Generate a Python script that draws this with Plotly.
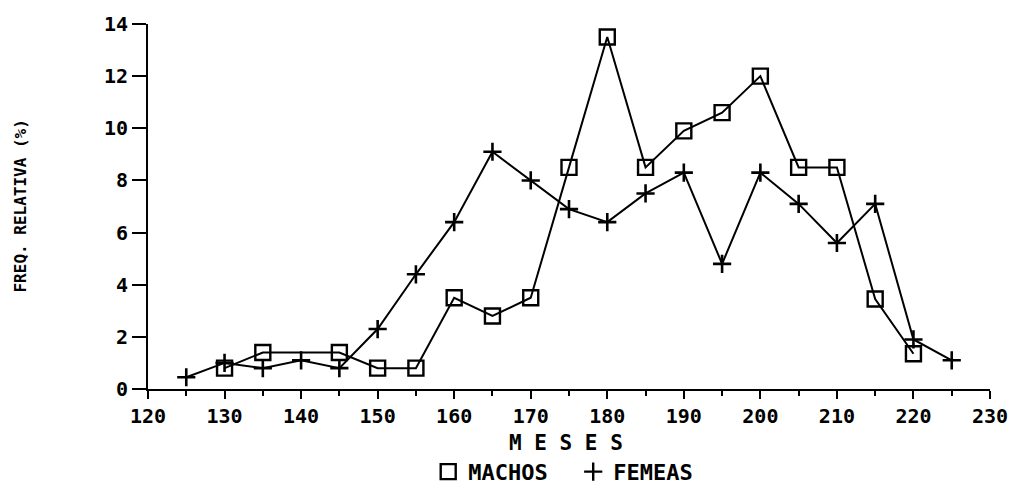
import plotly.graph_objects as go

meses_machos = [130, 135, 145, 150, 155, 160, 165, 170, 175, 180, 185, 190, 195, 200, 205, 210, 215, 220]
machos = [0.8, 1.4, 1.4, 0.8, 0.8, 3.5, 2.8, 3.5, 8.5, 13.5, 8.5, 9.9, 10.6, 12.0, 8.5, 8.5, 3.45, 1.35]

meses_femeas = [125, 130, 135, 140, 145, 150, 155, 160, 165, 170, 175, 180, 185, 190, 195, 200, 205, 210, 215, 220, 225]
femeas = [0.45, 1.0, 0.8, 1.1, 0.8, 2.3, 4.4, 6.4, 9.1, 8.0, 6.9, 6.4, 7.5, 8.3, 4.8, 8.3, 7.1, 5.6, 7.1, 1.9, 1.1]

FONT = "DejaVu Sans Mono"

fig = go.Figure()
fig.add_trace(go.Scatter(
    x=meses_machos, y=machos, mode="lines+markers", name="MACHOS", showlegend=False,
    line=dict(color="black", width=2),
    marker=dict(symbol="square-open", size=15, color="black", line=dict(width=2.4)),
))
fig.add_trace(go.Scatter(
    x=meses_femeas, y=femeas, mode="lines+markers", name="FEMEAS", showlegend=False,
    line=dict(color="black", width=2),
    marker=dict(symbol="cross-thin-open", size=13, color="black", line=dict(width=2.6, color="black")),
))
# legend entries (markers only)
fig.add_trace(go.Scatter(x=[None], y=[None], mode="markers", name="<b>MACHOS</b>",
                         marker=dict(symbol="square-open", size=15, color="black", line=dict(width=2.4))))
fig.add_trace(go.Scatter(x=[None], y=[None], mode="markers", name="<b>FEMEAS</b>",
                         marker=dict(symbol="cross-thin-open", size=13, color="black", line=dict(width=2.4, color="black"))))

fig.update_layout(
    width=1010, height=490,
    margin=dict(l=148, r=20, t=24, b=101),
    paper_bgcolor="white", plot_bgcolor="white",
    font=dict(family=FONT, size=20, color="black"),
    legend=dict(orientation="h", x=0.505, xanchor="center", yref="container", y=0.037, yanchor="middle",
                font=dict(family=FONT, size=22, color="black"), itemwidth=30, entrywidth=100,
                bgcolor="rgba(0,0,0,0)"),
    xaxis=dict(
        range=[120, 230], dtick=10, tick0=120, showgrid=False, zeroline=False,
        showline=True, linecolor="black", linewidth=2, automargin=False,
        ticks="outside", ticklen=8, tickwidth=2, tickcolor="black",
        minor=dict(dtick=5, ticks="outside", ticklen=5, tickwidth=2, tickcolor="black"),
        tickfont=dict(family=FONT, size=20, color="black", weight="bold"),
    ),
    yaxis=dict(
        range=[0, 14], dtick=2, showgrid=False, zeroline=False,
        showline=True, linecolor="black", linewidth=2, automargin=False,
        ticks="outside", ticklen=14, tickwidth=1.5, tickcolor="black",
        tickfont=dict(family=FONT, size=20, color="black", weight="bold"),
    ),
    annotations=[
        dict(text="<b>M E S E S</b>", xref="paper", yref="paper", x=0.496, y=-0.148,
             xanchor="center", yanchor="middle", showarrow=False,
             font=dict(family=FONT, size=21, color="black")),
        dict(text="<b>FREQ. RELATIVA (%)</b>", xref="paper", yref="paper", x=-0.152, y=0.5,
             xanchor="center", yanchor="middle", textangle=-90, showarrow=False,
             font=dict(family=FONT, size=16, color="black")),
    ],
)

# remove the browser's default 8px body margin so the 1010x490 figure fills the window exactly
fig.write_html("out.html", config={"displayModeBar": False},
               post_script="document.body.style.margin='0';document.body.style.overflow='hidden';")
